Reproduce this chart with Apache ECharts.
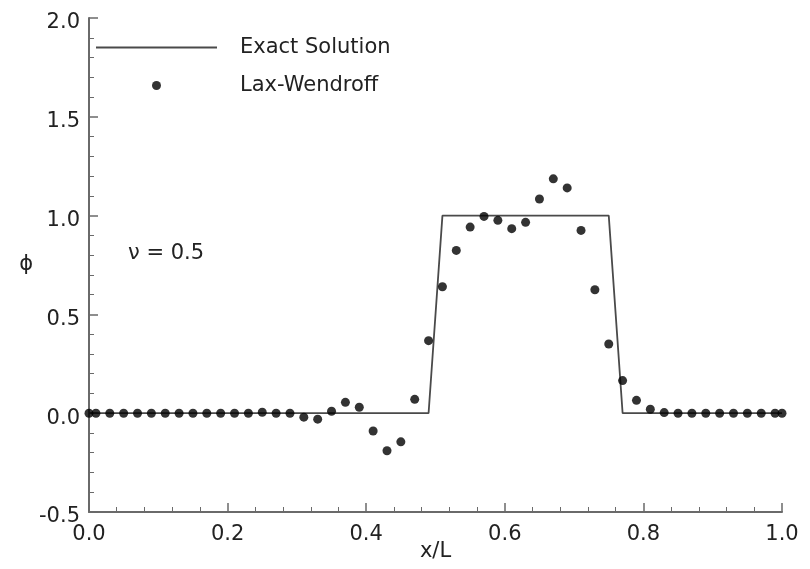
<!DOCTYPE html>
<html>
<head>
<meta charset="utf-8">
<script src="https://cdn.jsdelivr.net/npm/echarts@6/dist/echarts.min.js"></script>
<style>
html,body{margin:0;padding:0;background:#fff;}
#chart{width:810px;height:569px;}
</style>
</head>
<body>
<div id="chart"></div>
<script>
// ---- data ----
var xTicks = [0.0, 0.2, 0.4, 0.6, 0.8, 1.0];
var yTicks = [-0.5, 0.0, 0.5, 1.0, 1.5, 2.0];

var exactX = [0.0, 0.49, 0.51, 0.75, 0.77, 1.0];
var exactY = [0.0, 0.0, 1.0, 1.0, 0.0, 0.0];

var lwX = [0.0, 0.01, 0.03, 0.05, 0.07, 0.09, 0.11, 0.13, 0.15, 0.17, 0.19,
           0.21, 0.23, 0.25, 0.27, 0.29, 0.31, 0.33, 0.35, 0.37, 0.39,
           0.41, 0.43, 0.45, 0.47, 0.49, 0.51, 0.53, 0.55, 0.57, 0.59,
           0.61, 0.63, 0.65, 0.67, 0.69, 0.71, 0.73, 0.75, 0.77, 0.79,
           0.81, 0.83, 0.85, 0.87, 0.89, 0.91, 0.93, 0.95, 0.97, 0.99, 1.0];
var lwY = [0.0, 0.0, 0.0, 0.0, 0.0, 0.0, 0.0, 0.0, 0.0, 0.0, 0.0,
           0.0, 0.0, 0.005, 0.0, 0.0, -0.02, -0.03, 0.01, 0.055, 0.03,
           -0.09, -0.19, -0.145, 0.07, 0.367, 0.64, 0.824, 0.942, 0.996, 0.976,
           0.934, 0.966, 1.084, 1.186, 1.14, 0.925, 0.625, 0.35, 0.165, 0.065,
           0.02, 0.003, 0.0, 0.0, 0.0, 0.0, 0.0, 0.0, 0.0, 0.0, 0.0];

var seriesNames = ['Exact Solution', 'Lax-Wendroff'];
var annotation = '\u03bd = 0.5';
var xName = 'x/L';
var yName = '\u03d5';

// ---- build ----
var FONT = 'DejaVu Sans';
var TXT = '#222';
var AX = '#6a6a6a';

function pairs(xs, ys) { return xs.map(function (x, i) { return [x, ys[i]]; }); }

var chart = echarts.init(document.getElementById('chart'), null, {renderer: 'canvas'});
var axisCommon = {
  axisTick: {show: true, inside: true, length: 9, lineStyle: {color: AX, width: 1.5}},
  minorTick: {show: true, splitNumber: 5, length: 5, lineStyle: {color: AX, width: 1}},
  splitLine: {show: false},
  axisLabel: {color: TXT, fontFamily: FONT, fontSize: 21, formatter: function (v) { return v.toFixed(1); }}
};

chart.setOption({
  animation: false,
  backgroundColor: '#fff',
  grid: {left: 89, right: 28, top: 18, bottom: 57, containLabel: false, outerBoundsMode: 'none'},
  xAxis: Object.assign({}, axisCommon, {
    type: 'value', min: xTicks[0], max: xTicks[xTicks.length - 1], interval: xTicks[1] - xTicks[0],
    name: xName, nameLocation: 'middle', nameGap: 29, nameMoveOverlap: false,
    nameTextStyle: {color: TXT, fontFamily: FONT, fontSize: 21, verticalAlign: 'top'},
    axisLine: {show: true, onZero: false, lineStyle: {color: AX, width: 2}},
    axisLabel: Object.assign({}, axisCommon.axisLabel, {margin: 12})
  }),
  yAxis: Object.assign({}, axisCommon, {
    type: 'value', min: yTicks[0], max: yTicks[yTicks.length - 1], interval: yTicks[1] - yTicks[0],
    name: yName, nameLocation: 'middle', nameGap: 56, nameRotate: 0, nameMoveOverlap: false,
    nameTextStyle: {color: TXT, fontFamily: FONT, fontSize: 21},
    axisLine: {show: true, onZero: false, lineStyle: {color: AX, width: 2}},
    axisLabel: Object.assign({}, axisCommon.axisLabel, {margin: 9, verticalAlign: 'top', lineHeight: 10})
  }),
  legend: [
    {
      data: [{name: seriesNames[0], icon: 'rect'}],
      left: 96, top: 37, padding: 0, itemWidth: 121, itemHeight: 2,
      textStyle: {color: TXT, fontFamily: FONT, fontSize: 21, padding: [12, 0, 0, 18]},
      selectedMode: false
    },
    {
      data: [{name: seriesNames[1], icon: 'circle'}],
      left: 152, top: 75, padding: 0, itemWidth: 9, itemHeight: 9,
      textStyle: {color: TXT, fontFamily: FONT, fontSize: 21, padding: [8, 0, 0, 74]},
      selectedMode: false
    }
  ],
  graphic: [
    {type: 'text', left: 128, top: 243, style: {text: annotation, fill: TXT, font: '21px "DejaVu Sans"'}}
  ],
  series: [
    {
      name: seriesNames[0], type: 'line', data: pairs(exactX, exactY),
      showSymbol: false, symbol: 'none',
      lineStyle: {color: '#4a4a4a', width: 1.8},
      itemStyle: {color: '#4a4a4a'},
      z: 2
    },
    {
      name: seriesNames[1], type: 'scatter', data: pairs(lwX, lwY),
      symbol: 'circle', symbolSize: 9,
      itemStyle: {color: '#000'},
      z: 3
    }
  ]
});
</script>
</body>
</html>
